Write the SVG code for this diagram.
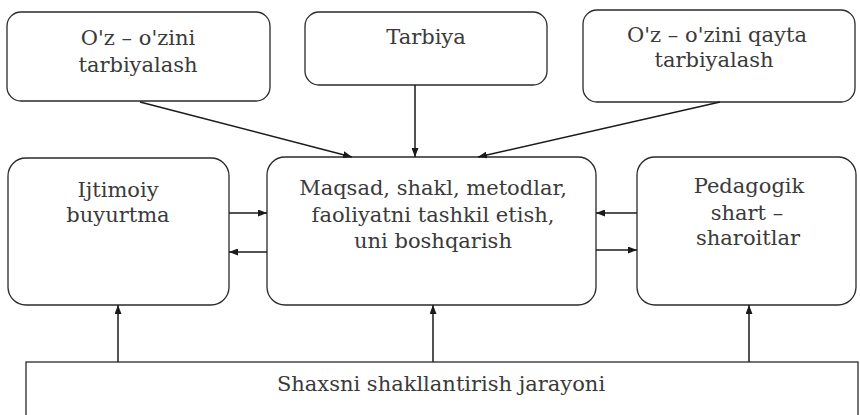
<svg xmlns="http://www.w3.org/2000/svg" width="860" height="415" viewBox="0 0 860 415">
<defs>
<marker id="ah" viewBox="0 0 9 7" refX="9" refY="3.5" markerWidth="9" markerHeight="7" markerUnits="userSpaceOnUse" orient="auto">
<path d="M0,0 L9,3.5 L0,7 Z" fill="#1a1a1a"/>
</marker>
<style>
.box{fill:#fff;stroke:#2a2a2a;stroke-width:1.3}
.t{font-family:"DejaVu Serif","Liberation Serif",serif;font-size:21px;fill:#3a3a3a;text-anchor:middle}
.c{stroke:#1a1a1a;stroke-width:1.5;fill:none;marker-end:url(#ah)}
</style>
</defs>
<rect width="860" height="415" fill="#fff"/>
<g id="n1">
<rect class="box" x="7" y="12" width="263" height="89" rx="14"/>
<text class="t" x="138" y="45">O'z – o'zini</text>
<text class="t" x="138" y="72">tarbiyalash</text>
</g>
<g id="n2">
<rect class="box" x="305" y="12" width="242" height="73" rx="14"/>
<text class="t" x="426" y="44">Tarbiya</text>
</g>
<g id="n3">
<rect class="box" x="583" y="10" width="272" height="92" rx="14"/>
<text class="t" x="717" y="42">O'z – o'zini qayta</text>
<text class="t" x="714" y="67">tarbiyalash</text>
</g>
<g id="n4">
<rect class="box" x="8" y="158" width="221" height="147" rx="18"/>
<text class="t" x="118" y="197">Ijtimoiy</text>
<text class="t" x="118" y="222">buyurtma</text>
</g>
<g id="n5">
<rect class="box" x="267" y="157" width="329" height="148" rx="18"/>
<text class="t" x="433" y="195">Maqsad, shakl, metodlar,</text>
<text class="t" x="433" y="222">faoliyatni tashkil etish,</text>
<text class="t" x="433" y="248">uni boshqarish</text>
</g>
<g id="n6">
<rect class="box" x="637" y="157" width="219" height="148" rx="18"/>
<text class="t" x="749" y="193">Pedagogik</text>
<text class="t" x="747" y="220">shart –</text>
<text class="t" x="748" y="245">sharoitlar</text>
</g>
<g id="n7">
<rect class="box" x="26" y="362" width="832" height="70"/>
<text class="t" x="441" y="391">Shaxsni shakllantirish jarayoni</text>
</g>
<g id="connectors">
<line class="c" x1="140" y1="102" x2="352" y2="157"/>
<line class="c" x1="415" y1="85" x2="415" y2="157"/>
<line class="c" x1="720" y1="102" x2="478" y2="157"/>
<line class="c" x1="229" y1="213" x2="267" y2="213"/>
<line class="c" x1="267" y1="252" x2="229" y2="252"/>
<line class="c" x1="637" y1="213" x2="596" y2="213"/>
<line class="c" x1="596" y1="250" x2="637" y2="250"/>
<line class="c" x1="118" y1="362" x2="118" y2="305"/>
<line class="c" x1="433" y1="362" x2="433" y2="305"/>
<line class="c" x1="749" y1="362" x2="749" y2="305"/>
</g>
</svg>
